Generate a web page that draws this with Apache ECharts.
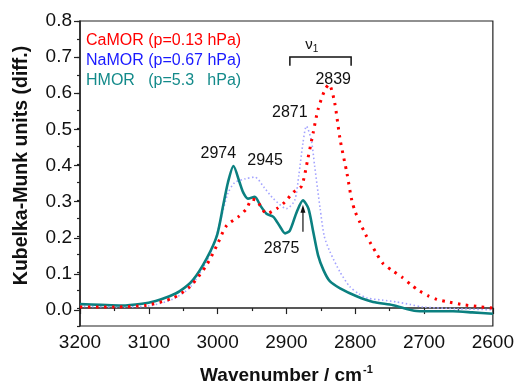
<!DOCTYPE html>
<html>
<head>
<meta charset="utf-8">
<script src="https://cdn.jsdelivr.net/npm/echarts@6/dist/echarts.min.js"></script>
<style>
  html, body { margin: 0; padding: 0; background: #fff; }
  #chart { width: 517px; height: 390px; }
</style>
</head>
<body>
<div id="chart"></div>
<script>
// wavenumber (cm-1) / Kubelka-Munk values
const hmorWn = [3200, 3170, 3140, 3110, 3090, 3070, 3055, 3036, 3016, 3001, 2992, 2985, 2977, 2968, 2963, 2956, 2946, 2938, 2929, 2919, 2909, 2902, 2895, 2885, 2876, 2868, 2861, 2854, 2846, 2837, 2822, 2798, 2774, 2745, 2711, 2680, 2658, 2630, 2600];
const hmorKm = [0.011, 0.009, 0.007, 0.012, 0.020, 0.033, 0.047, 0.078, 0.138, 0.202, 0.285, 0.350, 0.396, 0.350, 0.323, 0.305, 0.310, 0.286, 0.263, 0.254, 0.226, 0.208, 0.216, 0.268, 0.300, 0.277, 0.212, 0.147, 0.105, 0.075, 0.055, 0.033, 0.017, 0.008, -0.008, -0.009, -0.009, -0.012, -0.016];

const namorWn = [3200, 3150, 3100, 3065, 3040, 3016, 3005, 2995, 2985, 2975, 2960, 2946, 2932, 2919, 2900, 2888, 2882, 2876, 2871, 2864, 2859, 2851, 2845, 2837, 2822, 2808, 2795, 2783, 2760, 2740, 2720, 2702, 2650, 2600];
const namorKm = [0.005, 0.003, 0.006, 0.025, 0.058, 0.130, 0.180, 0.250, 0.320, 0.350, 0.360, 0.365, 0.335, 0.305, 0.277, 0.300, 0.370, 0.460, 0.507, 0.470, 0.396, 0.277, 0.200, 0.158, 0.100, 0.060, 0.040, 0.028, 0.022, 0.017, 0.010, 0.003, -0.002, -0.005];

const camorWn = [3200, 3150, 3103, 3065, 3040, 3016, 3001, 2987, 2970, 2958, 2950, 2943, 2938, 2929, 2914, 2902, 2890, 2878, 2869, 2861, 2854, 2844, 2838, 2830, 2822, 2812, 2805, 2800, 2793, 2785, 2777, 2770, 2760, 2745, 2732, 2719, 2707, 2694, 2681, 2667, 2642, 2620, 2600];
const camorKm = [0.003, 0.003, 0.008, 0.028, 0.060, 0.120, 0.175, 0.230, 0.254, 0.277, 0.303, 0.300, 0.285, 0.263, 0.277, 0.296, 0.323, 0.340, 0.415, 0.490, 0.554, 0.609, 0.623, 0.573, 0.470, 0.375, 0.300, 0.268, 0.238, 0.205, 0.178, 0.155, 0.125, 0.103, 0.086, 0.065, 0.048, 0.034, 0.024, 0.018, 0.009, 0.004, 0.000];

const legendTexts = ['CaMOR (p=0.13 hPa)', 'NaMOR (p=0.67 hPa)', 'HMOR   (p=5.3   hPa)'];
const legendColors = ['#ff0000', '#1a1aff', '#138a8a'];

// peak labels: text, wavenumber, value (centre of the label)
const peakLabels = ['2974', '2945', '2871', '2839', '2875'];
const peakLabelWn = [2999, 2931, 2895, 2832, 2907];
const peakLabelKm = [0.430, 0.410, 0.545, 0.637, 0.166];

const xTicks = [2600, 2700, 2800, 2900, 3000, 3100, 3200];

const FONT = 'Liberation Sans, Arial, sans-serif';

function pairs(xs, ys) {
  return xs.map((x, i) => [x, ys[i]]);
}

var chart = echarts.init(document.getElementById('chart'));

var option = {
  animation: false,
  grid: [
    { left: 80, right: 24, top: 21, bottom: 62, show: true, borderColor: '#222', borderWidth: 1.2 },
    { left: 80, right: 24, top: 21, bottom: 80 }
  ],
  xAxis: [
    {
      type: 'value',
      gridIndex: 0,
      min: xTicks[0],
      max: xTicks[xTicks.length - 1],
      interval: 100,
      inverse: true,
      name: '{t|Wavenumber / cm}{s|-1}',
      nameLocation: 'middle',
      nameGap: 38,
      nameTextStyle: {
        rich: {
          t: { fontSize: 19, fontWeight: 'bold', fontFamily: FONT, color: '#111' },
          s: { fontSize: 11, fontWeight: 'bold', fontFamily: FONT, color: '#111', padding: [0, 0, 12, 1] }
        }
      },
      axisLine: { lineStyle: { color: '#222', width: 1.5 } },
      axisTick: { length: 6, lineStyle: { color: '#222', width: 1.2 } },
      minorTick: { show: true, splitNumber: 2, length: 3, lineStyle: { color: '#222', width: 1.2 } },
      axisLabel: { fontSize: 19, fontFamily: FONT, color: '#111', margin: 7, formatter: (v) => String(v) },
      splitLine: { show: false }
    },
    { type: 'value', gridIndex: 1, min: 2600, max: 3200, inverse: true, show: false }
  ],
  yAxis: [
    {
      type: 'value',
      gridIndex: 0,
      min: -0.05,
      max: 0.8,
      interval: 0.05,
      axisLine: { show: true, lineStyle: { color: '#222', width: 1.5 } },
      axisTick: { length: 3, lineStyle: { color: '#222', width: 1.2 } },
      axisLabel: { show: false },
      splitLine: { show: false }
    },
    {
      type: 'value',
      gridIndex: 1,
      min: 0,
      max: 0.8,
      interval: 0.1,
      name: 'Kubelka-Munk units (diff.)',
      nameLocation: 'middle',
      nameGap: 48,
      nameTextStyle: { fontSize: 19.5, fontWeight: 'bold', fontFamily: FONT, color: '#111' },
      axisLine: { show: false },
      axisTick: { length: 6, lineStyle: { color: '#222', width: 1.2 } },
      axisLabel: {
        fontSize: 19, fontFamily: FONT, color: '#111', margin: 8,
        formatter: (v) => v.toFixed(1)
      },
      splitLine: { show: false }
    }
  ],
  series: [
    {
      name: 'NaMOR',
      type: 'line',
      xAxisIndex: 0,
      yAxisIndex: 0,
      data: pairs(namorWn, namorKm),
      symbol: 'none',
      smooth: 0.25,
      lineStyle: { color: '#a3a3ff', width: 1.6, type: [1.5, 2.5] }
    },
    {
      name: 'HMOR',
      type: 'line',
      xAxisIndex: 0,
      yAxisIndex: 0,
      data: pairs(hmorWn, hmorKm),
      symbol: 'none',
      smooth: 0.25,
      lineStyle: { color: '#0b8080', width: 2.6 }
    },
    {
      name: 'CaMOR',
      type: 'line',
      xAxisIndex: 0,
      yAxisIndex: 0,
      data: pairs(camorWn, camorKm),
      symbol: 'none',
      smooth: 0.25,
      lineStyle: { color: '#ff0000', width: 3, type: [2.5, 5.5] }
    }
  ]
};

chart.setOption(option);

// annotations placed from data coordinates
function px(w, v) {
  return chart.convertToPixel({ gridIndex: 0 }, [w, v]);
}

var graphics = [];

legendTexts.forEach((t, i) => {
  graphics.push({
    type: 'text',
    left: 86,
    top: 33 + i * 20,
    style: { text: t, fill: legendColors[i], font: '16px ' + FONT }
  });
});

peakLabels.forEach((t, i) => {
  var p = px(peakLabelWn[i], peakLabelKm[i]);
  graphics.push({
    type: 'text',
    x: p[0],
    y: p[1],
    style: { text: t, fill: '#111', font: '16px ' + FONT, align: 'center', verticalAlign: 'middle' }
  });
});

// arrow pointing at the 2875 shoulder
var a0 = px(2876, 0.213);
var a1 = px(2876, 0.282);
graphics.push({
  type: 'line',
  shape: { x1: a0[0], y1: a0[1], x2: a1[0], y2: a1[1] + 4 },
  style: { stroke: '#111', lineWidth: 1.2 }
});
graphics.push({
  type: 'polygon',
  shape: { points: [[a1[0], a1[1] - 2], [a1[0] - 2.5, a1[1] + 6], [a1[0] + 2.5, a1[1] + 6]] },
  style: { fill: '#111' }
});

// nu1 bracket
var bl = px(2895, 0.675), bt = px(2895, 0.700), br = px(2806, 0.700), bb = px(2806, 0.675);
graphics.push({
  type: 'polyline',
  shape: { points: [bl, bt, br, bb] },
  style: { stroke: '#111', lineWidth: 1.5, fill: null }
});
var nu = px(2863, 0.733);
graphics.push({
  type: 'text',
  x: nu[0],
  y: nu[1],
  style: {
    text: '{n|ν}{s|1}',
    align: 'center',
    verticalAlign: 'middle',
    rich: {
      n: { font: '15px ' + FONT, fill: '#111' },
      s: { font: '10px ' + FONT, fill: '#111', padding: [8, 0, 0, 0] }
    }
  }
});

chart.setOption({ graphic: graphics });
</script>
</body>
</html>
